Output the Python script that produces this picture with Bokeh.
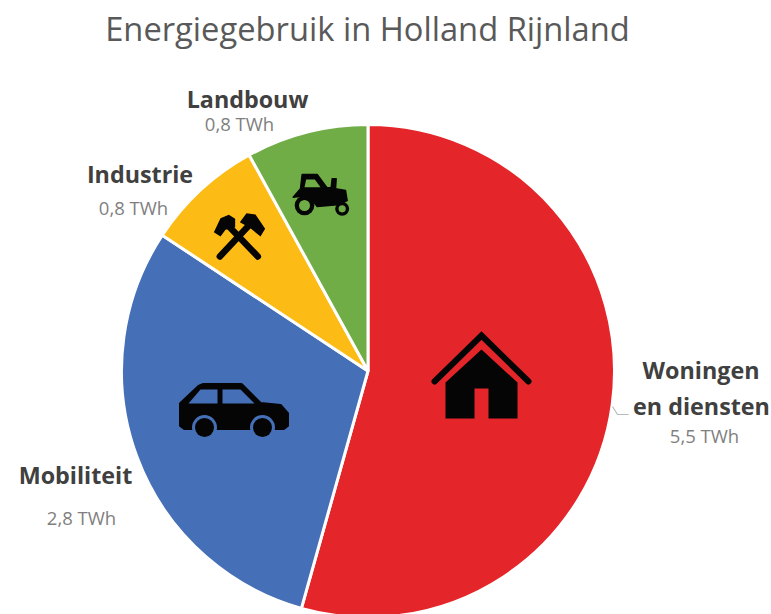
from math import pi
from bokeh.plotting import figure
from bokeh.models import Range1d, ColumnDataSource
from bokeh.core.properties import value
from bokeh.embed import file_html
from bokeh.resources import INLINE

# Data
categories = ["Woningen en diensten", "Mobiliteit", "Industrie", "Landbouw"]
slice_values = [5.43, 2.99, 0.77, 0.8]
colors = ["#E42529", "#4570B7", "#FDBC15", "#70AD47"]
title_text = "Energiegebruik in Holland Rijnland"
name_labels = ["Landbouw", "Industrie", "Mobiliteit", "Woningen", "en diensten"]
twh_labels = ["0,8 TWh", "0,8 TWh", "2,8 TWh", "5,5 TWh"]

W, H = 771, 614
def Y(y):
    return H - y
def XS(pts):
    return [q[0] for q in pts]
def YS(pts):
    return [Y(q[1]) for q in pts]
def Z(pts):  # icon outlines, measured in a 3x crop
    return [(170 + a / 3, 150 + b / 3) for a, b in pts]

p = figure(width=W, height=H, output_backend="svg", toolbar_location=None,
           x_range=Range1d(0, W), y_range=Range1d(0, H),
           min_border=0, outline_line_color=None, background_fill_color="white",
           border_fill_color="white")
p.axis.visible = False
p.grid.visible = False

# Pie
cx, cy, R = 367.5, 370.5, 246.5
total = sum(slice_values)
starts, ends = [], []
a = pi / 2
for v in slice_values:
    starts.append(a)
    a -= v / total * 2 * pi
    ends.append(a)
src = ColumnDataSource(dict(x=[cx] * 4, y=[Y(cy)] * 4, s=ends, e=starts, c=colors))
p.wedge(x="x", y="y", radius=R, start_angle="s", end_angle="e", fill_color="c",
        line_color="white", line_width=3, source=src)

# Leader line
p.line(XS([(612, 406), (617, 414), (628, 414)]), YS([(612, 406), (617, 414), (628, 414)]),
       line_color="#b5bcc0", line_width=1.2)

INK = "#050505"
# House
p.line(XS([(434, 381), (481, 335), (528, 381)]), YS([(434, 381), (481, 335), (528, 381)]),
       line_color=INK, line_width=6, line_cap="round", line_join="miter")
house = [(445, 382), (481, 349), (517, 382), (517, 418), (488, 418), (488, 388),
         (474, 388), (474, 418), (445, 418)]
p.patch(XS(house), YS(house), fill_color=INK, line_color=None)

# Car
car = [(180, 403), (198, 386), (203, 384), (241, 384), (260, 403), (280, 405), (287, 413),
       (287, 425), (283, 428), (184, 428), (180, 425)]
p.patch(XS(car), YS(car), fill_color=INK, line_color=INK, line_width=3, line_join="round")
for w in ([(188, 403), (200, 389), (217, 389), (217, 403)], [(222, 389), (240, 389), (254, 403), (222, 403)]):
    p.patch(XS(w), YS(w), fill_color=colors[1], line_color=None)
p.circle(x=[204, 262], y=[Y(427), Y(427)], radius=12.5, fill_color=colors[1], line_color=None)
p.circle(x=[204, 262], y=[Y(427), Y(427)], radius=9.5, fill_color=INK, line_color=None)

# Tractor
tr = Z([(395, 72), (440, 72), (470, 112), (482, 112), (485, 85), (497, 85), (495, 115), (525, 120),
        (530, 150), (500, 163), (440, 168), (425, 148), (385, 138), (368, 140), (390, 115)])
p.patch(XS(tr), YS(tr), fill_color=INK, line_color=INK, line_width=1.5, line_join="round")
win = Z([(407, 87), (433, 87), (450, 110), (402, 110)])
p.patch(XS(win), YS(win), fill_color=colors[3], line_color=None)
c1, c2 = Z([(402, 165), (515, 175)])
p.circle(x=[c1[0]], y=[Y(c1[1])], radius=9.8, fill_color=INK, line_color=None)
p.circle(x=[c1[0]], y=[Y(c1[1])], radius=5.5, fill_color=colors[3], line_color=None)
p.circle(x=[c2[0]], y=[Y(c2[1])], radius=7, fill_color=INK, line_color=None)
p.circle(x=[c2[0]], y=[Y(c2[1])], radius=3.6, fill_color=colors[3], line_color=None)

# Hammers
for h in (Z([(148, 318), (235, 225)]), Z([(262, 318), (170, 222)])):
    p.line(XS(h), YS(h), line_color=INK, line_width=6.5, line_cap="round")
for h in (Z([(208, 215), (228, 188), (255, 192), (284, 235), (270, 258), (238, 232)]),
          Z([(130, 245), (150, 203), (175, 193), (194, 205), (194, 230), (165, 238), (150, 258)])):
    p.patch(XS(h), YS(h), fill_color=INK, line_color=None)

# Texts
def txt(x, y, s, size, color, style="normal"):
    p.text(x=[x], y=[Y(y)], text=[s], text_font=value("Open Sans"), text_font_size=size,
           text_color=color, text_font_style=style, text_align="center", text_baseline="middle")

txt(367, 28, title_text, "32.7px", "#595959")
for (x, y), s in zip([(247, 98), (139.5, 173), (75, 474), (700.5, 369), (701, 405)], name_labels):
    txt(x, y, s, "23.3px", "#404040", "bold")
for (x, y), s in zip([(239, 123), (133, 207), (81, 517), (704, 435)], twh_labels):
    txt(x, y, s, "18.5px", "#7f7f7f")

open("out.html", "w").write(file_html(p, INLINE))
